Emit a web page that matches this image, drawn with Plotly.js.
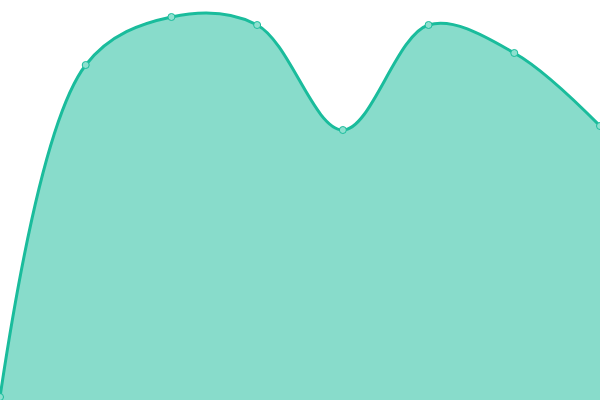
<!DOCTYPE html>
<html>
<head>
<meta charset="utf-8">
<script src="https://cdn.plot.ly/plotly-3.0.1.min.js"></script>
<style>
  html, body { margin: 0; padding: 0; background: #fff; }
  #chart { width: 600px; height: 400px; }
</style>
</head>
<body>
<div id="chart"></div>
<script>
// values
var xValues = [0, 1, 2, 3, 4, 5, 6, 7];
var yValues = [3, 335, 383, 375, 270, 375, 347, 274];

function drawChart() {
    var trace = {
        x: xValues,
        y: yValues,
        type: 'scatter',
        mode: 'lines+markers',
        fill: 'tozeroy',
        fillcolor: 'rgba(26,188,156,0.52)',
        line: { color: '#1abc9c', width: 3, shape: 'spline', smoothing: 1 },
        marker: {
            size: 7,
            color: '#8ee0cf',
            line: { color: '#1abc9c', width: 1 }
        },
        hoverinfo: 'none'
    };

    var layout = {
        width: 600,
        height: 400,
        margin: { l: 0, r: 0, t: 0, b: 0 },
        showlegend: false,
        paper_bgcolor: '#fff',
        plot_bgcolor: '#fff',
        xaxis: { range: [0, 7], visible: false, fixedrange: true },
        yaxis: { range: [0, 400], visible: false, fixedrange: true }
    };

    Plotly.newPlot('chart', [trace], layout, { displayModeBar: false, staticPlot: true });
}

drawChart();
</script>
</body>
</html>
